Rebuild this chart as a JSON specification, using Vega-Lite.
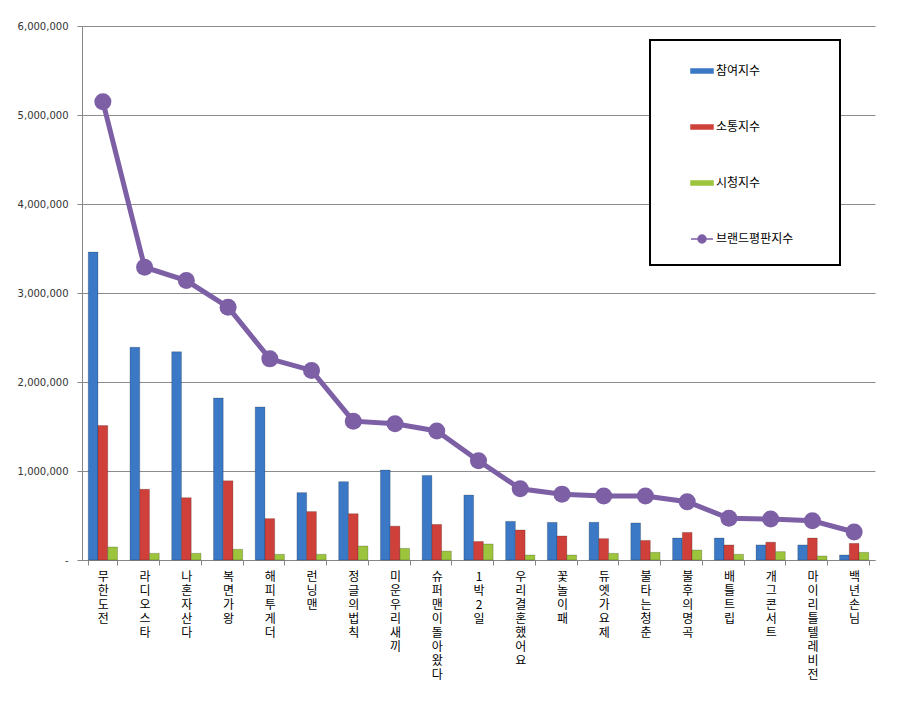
{
  "$schema": "https://vega.github.io/schema/vega-lite/v6.json",
  "autosize": {"type": "none"},
  "width": 793,
  "height": 534,
  "padding": {"left": 82, "top": 26, "right": 25, "bottom": 167},
  "background": "white",
  "config": {
    "view": {"stroke": null},
    "axis": {"domainColor": "#868686", "tickColor": "#868686", "gridColor": "#8c8c8c"}
  },
  "data": {
    "values": [
      {"프로그램": "무한도전", "지표": "참여지수", "값": 3460000},
      {"프로그램": "무한도전", "지표": "소통지수", "값": 1510000},
      {"프로그램": "무한도전", "지표": "시청지수", "값": 146000},
      {"프로그램": "무한도전", "지표": "브랜드평판지수", "값": 5150000},
      {"프로그램": "라디오스타", "지표": "참여지수", "값": 2390000},
      {"프로그램": "라디오스타", "지표": "소통지수", "값": 795000},
      {"프로그램": "라디오스타", "지표": "시청지수", "값": 75000},
      {"프로그램": "라디오스타", "지표": "브랜드평판지수", "값": 3290000},
      {"프로그램": "나혼자산다", "지표": "참여지수", "값": 2340000},
      {"프로그램": "나혼자산다", "지표": "소통지수", "값": 700000},
      {"프로그램": "나혼자산다", "지표": "시청지수", "값": 75000},
      {"프로그램": "나혼자산다", "지표": "브랜드평판지수", "값": 3140000},
      {"프로그램": "복면가왕", "지표": "참여지수", "값": 1820000},
      {"프로그램": "복면가왕", "지표": "소통지수", "값": 890000},
      {"프로그램": "복면가왕", "지표": "시청지수", "값": 120000},
      {"프로그램": "복면가왕", "지표": "브랜드평판지수", "값": 2840000},
      {"프로그램": "해피투게더", "지표": "참여지수", "값": 1720000},
      {"프로그램": "해피투게더", "지표": "소통지수", "값": 465000},
      {"프로그램": "해피투게더", "지표": "시청지수", "값": 64000},
      {"프로그램": "해피투게더", "지표": "브랜드평판지수", "값": 2260000},
      {"프로그램": "런닝맨", "지표": "참여지수", "값": 757000},
      {"프로그램": "런닝맨", "지표": "소통지수", "값": 544000},
      {"프로그램": "런닝맨", "지표": "시청지수", "값": 64000},
      {"프로그램": "런닝맨", "지표": "브랜드평판지수", "값": 2130000},
      {"프로그램": "정글의법칙", "지표": "참여지수", "값": 880000},
      {"프로그램": "정글의법칙", "지표": "소통지수", "값": 520000},
      {"프로그램": "정글의법칙", "지표": "시청지수", "값": 157000},
      {"프로그램": "정글의법칙", "지표": "브랜드평판지수", "값": 1560000},
      {"프로그램": "미운우리새끼", "지표": "참여지수", "값": 1010000},
      {"프로그램": "미운우리새끼", "지표": "소통지수", "값": 380000},
      {"프로그램": "미운우리새끼", "지표": "시청지수", "값": 131000},
      {"프로그램": "미운우리새끼", "지표": "브랜드평판지수", "값": 1530000},
      {"프로그램": "슈퍼맨이돌아왔다", "지표": "참여지수", "값": 950000},
      {"프로그램": "슈퍼맨이돌아왔다", "지표": "소통지수", "값": 400000},
      {"프로그램": "슈퍼맨이돌아왔다", "지표": "시청지수", "값": 100000},
      {"프로그램": "슈퍼맨이돌아왔다", "지표": "브랜드평판지수", "값": 1450000},
      {"프로그램": "1박2일", "지표": "참여지수", "값": 730000},
      {"프로그램": "1박2일", "지표": "소통지수", "값": 208000},
      {"프로그램": "1박2일", "지표": "시청지수", "값": 180000},
      {"프로그램": "1박2일", "지표": "브랜드평판지수", "값": 1115000},
      {"프로그램": "우리결혼했어요", "지표": "참여지수", "값": 434000},
      {"프로그램": "우리결혼했어요", "지표": "소통지수", "값": 337000},
      {"프로그램": "우리결혼했어요", "지표": "시청지수", "값": 56000},
      {"프로그램": "우리결혼했어요", "지표": "브랜드평판지수", "값": 800000},
      {"프로그램": "꽃놀이패", "지표": "참여지수", "값": 423000},
      {"프로그램": "꽃놀이패", "지표": "소통지수", "값": 270000},
      {"프로그램": "꽃놀이패", "지표": "시청지수", "값": 56000},
      {"프로그램": "꽃놀이패", "지표": "브랜드평판지수", "값": 740000},
      {"프로그램": "듀엣가요제", "지표": "참여지수", "값": 423000},
      {"프로그램": "듀엣가요제", "지표": "소통지수", "값": 240000},
      {"프로그램": "듀엣가요제", "지표": "시청지수", "값": 75000},
      {"프로그램": "듀엣가요제", "지표": "브랜드평판지수", "값": 720000},
      {"프로그램": "불타는청춘", "지표": "참여지수", "값": 416000},
      {"프로그램": "불타는청춘", "지표": "소통지수", "값": 220000},
      {"프로그램": "불타는청춘", "지표": "시청지수", "값": 86000},
      {"프로그램": "불타는청춘", "지표": "브랜드평판지수", "값": 720000},
      {"프로그램": "불후의명곡", "지표": "참여지수", "값": 247000},
      {"프로그램": "불후의명곡", "지표": "소통지수", "값": 310000},
      {"프로그램": "불후의명곡", "지표": "시청지수", "값": 112000},
      {"프로그램": "불후의명곡", "지표": "브랜드평판지수", "값": 655000},
      {"프로그램": "배틀트립", "지표": "참여지수", "값": 247000},
      {"프로그램": "배틀트립", "지표": "소통지수", "값": 169000},
      {"프로그램": "배틀트립", "지표": "시청지수", "값": 64000},
      {"프로그램": "배틀트립", "지표": "브랜드평판지수", "값": 468000},
      {"프로그램": "개그콘서트", "지표": "참여지수", "값": 169000},
      {"프로그램": "개그콘서트", "지표": "소통지수", "값": 200000},
      {"프로그램": "개그콘서트", "지표": "시청지수", "값": 94000},
      {"프로그램": "개그콘서트", "지표": "브랜드평판지수", "값": 460000},
      {"프로그램": "마이리틀텔레비전", "지표": "참여지수", "값": 169000},
      {"프로그램": "마이리틀텔레비전", "지표": "소통지수", "값": 247000},
      {"프로그램": "마이리틀텔레비전", "지표": "시청지수", "값": 45000},
      {"프로그램": "마이리틀텔레비전", "지표": "브랜드평판지수", "값": 440000},
      {"프로그램": "백년손님", "지표": "참여지수", "값": 56000},
      {"프로그램": "백년손님", "지표": "소통지수", "값": 187000},
      {"프로그램": "백년손님", "지표": "시청지수", "값": 86000},
      {"프로그램": "백년손님", "지표": "브랜드평판지수", "값": 315000}
    ]
  },
  "encoding": {
    "x": {
      "field": "프로그램",
      "type": "nominal",
      "sort": null,
      "title": null,
      "scale": {"paddingInner": 0.3, "paddingOuter": 0.15},
      "axis": {
        "labelExpr": "split(datum.label, '')",
        "labelAngle": 0,
        "labelAlign": "center",
        "labelBaseline": "top",
        "labelFont": "Noto Sans CJK KR",
        "labelFontSize": 12,
        "labelLineHeight": 14,
        "labelColor": "#000000",
        "labelPadding": 6,
        "labelOverlap": false,
        "labelLimit": 0,
        "tickBand": "extent",
        "tickSize": 5,
        "domainColor": "#868686"
      }
    },
    "y": {
      "field": "값",
      "type": "quantitative",
      "title": null,
      "scale": {"domain": [0, 6000000], "nice": false},
      "axis": {
        "values": [0, 1000000, 2000000, 3000000, 4000000, 5000000, 6000000],
        "labelExpr": "datum.value == 0 ? '-' : format(datum.value, ',')",
        "labelFont": "DejaVu Sans",
        "labelFontSize": 10,
        "labelColor": "#333333",
        "labelPadding": 9,
        "tickSize": 5,
        "grid": true,
        "gridColor": "#8c8c8c"
      }
    },
    "color": {
      "field": "지표",
      "type": "nominal",
      "title": ".",
      "scale": {
        "domain": ["참여지수", "소통지수", "시청지수", "브랜드평판지수"],
        "range": ["#3b78c6", "#d0403b", "#9cc43c", "#7d5fa6"]
      },
      "legend": {
        "orient": "none",
        "legendX": 568,
        "legendY": 14,
        "direction": "vertical",
        "padding": 19,
        "strokeColor": "#000000",
        "fillColor": "#ffffff",
        "symbolSize": 484,
        "symbolOffset": 21,
        "labelOffset": 2,
        "rowPadding": 38,
        "labelFont": "Noto Sans CJK KR",
        "labelFontSize": 12,
        "labelColor": "#000000",
        "titleOrient": "right",
        "titleColor": "#ffffff",
        "titleFontSize": 10,
        "titlePadding": 25,
        "encode": {
          "legend": {"update": {"strokeWidth": {"value": 2}}},
          "symbols": {
            "update": {
              "shape": {"signal": "datum.value === '브랜드평판지수' ? 'M-1,0H1M-0.36,0A0.36,0.36 0 1,0 0.36,0A0.36,0.36 0 1,0 -0.36,0Z' : 'M-1,-0.18H1V0.18H-1Z'"},
              "fill": {"scale": "color", "field": "value"},
              "stroke": {"scale": "color", "field": "value"},
              "strokeWidth": {"value": 1.5},
              "opacity": {"value": 1},
              "fillOpacity": {"value": 1}
            }
          }
        }
      }
    }
  },
  "layer": [
    {
      "transform": [{"filter": "datum['지표'] != '브랜드평판지수'"}],
      "mark": {"type": "bar", "stroke": "#000000", "strokeOpacity": 0.2, "strokeWidth": 1},
      "encoding": {
        "xOffset": {
          "field": "지표",
          "type": "nominal",
          "sort": ["참여지수", "소통지수", "시청지수"],
          "scale": {"paddingInner": 0, "paddingOuter": 0}
        }
      }
    },
    {
      "transform": [{"filter": "datum['지표'] == '브랜드평판지수'"}],
      "mark": {
        "type": "line",
        "strokeWidth": 5,
        "point": {"filled": true, "size": 290, "opacity": 1}
      },
      "encoding": {}
    }
  ]
}
